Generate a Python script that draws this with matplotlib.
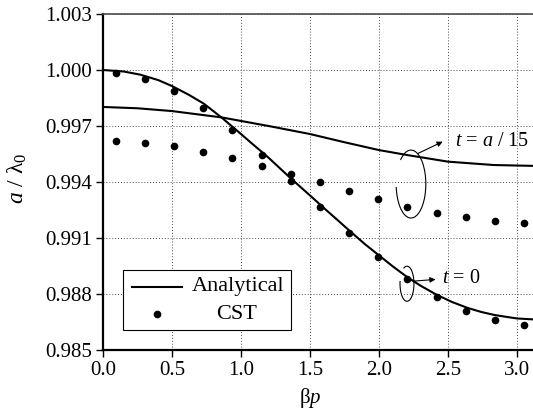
import numpy as np
import matplotlib
matplotlib.use("Agg")
import matplotlib.pyplot as plt
from matplotlib.patches import Arc, Rectangle
from matplotlib.lines import Line2D

plt.rcParams["font.family"] = ["Liberation Serif", "DejaVu Serif"]
plt.rcParams["mathtext.fontset"] = "custom"
plt.rcParams["mathtext.rm"] = "Liberation Serif"
plt.rcParams["mathtext.it"] = "Liberation Serif:italic"

# analytical curves
ana_t0_x = [0.0, 0.15, 0.27, 0.40, 0.50, 0.62, 0.73, 0.86, 1.00, 1.07, 1.14, 1.20,
            1.28, 1.36, 1.50, 1.62, 1.70, 1.78, 1.90, 2.00, 2.10, 2.20, 2.30, 2.42,
            2.53, 2.64, 2.74, 2.84, 3.00, 3.14]
ana_t0_y = [1.00000, 0.99992, 0.99975, 0.99946, 0.99914, 0.99868, 0.99820, 0.99745,
            0.99657, 0.99612, 0.99568, 0.99530, 0.99475, 0.99420, 0.99328, 0.99248,
            0.99196, 0.99143, 0.99066, 0.99007, 0.98948, 0.98893, 0.98845, 0.98795,
            0.98757, 0.98726, 0.98704, 0.98687, 0.98669, 0.98663]
ana_t15_x = [0.0, 0.25, 0.50, 0.86, 1.20, 1.50, 1.75, 2.00, 2.20, 2.50, 2.83, 3.14]
ana_t15_y = [0.99802, 0.99795, 0.99780, 0.99746, 0.99700, 0.99657, 0.99613, 0.99571,
             0.99545, 0.99509, 0.99491, 0.99486]

# CST simulation points
cst_x = [0.092, 0.304, 0.514, 0.725, 0.935, 1.152, 1.36, 1.572, 1.783, 1.993,
         2.20, 2.42, 2.63, 2.84, 3.05]
cst_t0_y = [0.99982, 0.99950, 0.99888, 0.99795, 0.99679, 0.99546, 0.99405, 0.99264,
            0.99125, 0.98997, 0.98879, 0.98782, 0.98709, 0.98659, 0.98634]
cst_t15_y = [0.99618, 0.99609, 0.99591, 0.99561, 0.99530, 0.99487, 0.99443, 0.99398,
             0.99352, 0.99309, 0.99268, 0.99235, 0.99211, 0.99193, 0.99182]

x_ticks = [0.0, 0.5, 1.0, 1.5, 2.0, 2.5, 3.0]
y_ticks = [0.985, 0.988, 0.991, 0.994, 0.997, 1.000, 1.003]


def arc_angle(t, w, h):
    # parametric angle -> the angle Arc expects (it re-stretches by w/h)
    t = np.deg2rad(t)
    return np.rad2deg(np.arctan2(h * np.sin(t), w * np.cos(t)))


def open_ellipse(ax, cx, cy, w, h, t1, t2):
    ax.add_patch(Arc((cx, cy), w, h, theta1=arc_angle(t1, w, h),
                     theta2=arc_angle(t2, w, h), lw=0.8, color="k", zorder=4))


fig = plt.figure(figsize=(5.33, 4.11), dpi=100)
ax = fig.add_axes([103 / 533, 61 / 411, 433.5 / 533, 336 / 411])

ax.plot(ana_t0_x, ana_t0_y, color="k", lw=1.5, zorder=3)
ax.plot(ana_t15_x, ana_t15_y, color="k", lw=1.5, zorder=3)
ax.plot(cst_x, cst_t0_y, "o", color="k", ms=4.5, zorder=3)
ax.plot(cst_x, cst_t15_y, "o", color="k", ms=4.5, zorder=3)

ax.set_xlim(0, np.pi)
ax.set_ylim(0.985, 1.003)
ax.set_xticks(x_ticks)
ax.set_yticks(y_ticks)
ax.set_xticklabels([f"{v:.1f}" for v in x_ticks])
ax.set_yticklabels([f"{v:.3f}" for v in y_ticks])
ax.tick_params(direction="out", length=5, width=1, labelsize=15, pad=3,
               top=False, right=False)
ax.grid(True, ls=(0, (1, 2)), lw=0.7, color="0.3")

for s in ("left", "bottom"):
    ax.spines[s].set_linewidth(1.6)
ax.spines["top"].set_linewidth(1.2)
ax.spines["top"].set_color("0.3")
ax.spines["right"].set_visible(False)

ax.set_xlabel("β$p$", fontsize=15)
ax.xaxis.set_label_coords(0.4775, -0.108)
ax.set_ylabel("$a$ / λ$_0$", fontsize=17)
ax.yaxis.set_label_coords(-0.170, 0.512)

# curve markers (ellipses + arrows)
open_ellipse(ax, 2.232, 0.99389, 0.215, 0.00364, 185, 135)
ax.annotate("", xy=(2.462, 0.99616), xytext=(2.28, 0.99552),
            arrowprops=dict(arrowstyle="-|>", lw=0.8, color="k", mutation_scale=8,
                            shrinkA=0, shrinkB=0))
ax.text(2.55, 0.99616, "$t$ = $a$ / 15", fontsize=14.5, ha="left", va="center")

open_ellipse(ax, 2.203, 0.98855, 0.101, 0.00188, 171, 119)
ax.annotate("", xy=(2.41, 0.98878), xytext=(2.251, 0.98869),
            arrowprops=dict(arrowstyle="-|>", lw=0.8, color="k", mutation_scale=8,
                            shrinkA=0, shrinkB=0))
ax.text(2.455, 0.98885, "$t$ = 0", fontsize=14.5, ha="left", va="center")

# legend box
ax.add_patch(Rectangle((0.0454, 0.0595), 0.3876, 0.1786, transform=ax.transAxes,
                       facecolor="white", edgecolor="k", lw=0.8, zorder=5))
ax.add_line(Line2D([0.0662, 0.1816], [0.1866, 0.1866], transform=ax.transAxes,
                   color="k", lw=1.5, zorder=6))
ax.add_line(Line2D([0.1239], [0.1071], transform=ax.transAxes, marker="o",
                   color="k", ms=4.5, ls="none", zorder=6))
ax.text(0.3114, 0.1875, "Analytical", transform=ax.transAxes, fontsize=16,
        ha="center", va="center", zorder=6)
ax.text(0.309, 0.1071, "CST", transform=ax.transAxes, fontsize=16,
        ha="center", va="center", zorder=6)

fig.savefig("out.png", dpi=100)
